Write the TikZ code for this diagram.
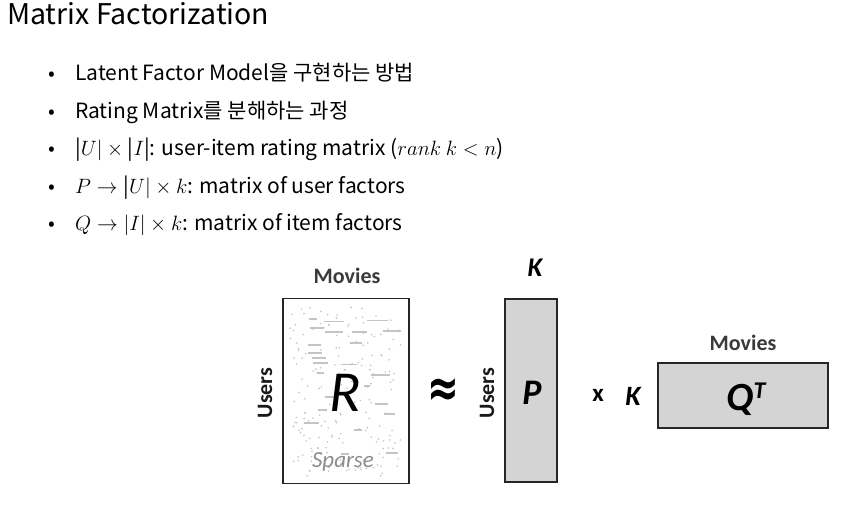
\documentclass[tikz,border=0pt]{standalone}
\usepackage{fontspec}
\setmainfont{Noto Sans CJK KR}
\newfontfamily\calfont{Carlito}
\newfontfamily\djfont{DejaVu Sans}
\definecolor{boxgray}{HTML}{D4D4D4}
\definecolor{dotgray}{HTML}{C4C4C4}
\definecolor{labgray}{HTML}{3A3A3A}
\begin{document}
\begin{tikzpicture}[x=1pt,y=-1pt,
  bul/.style={anchor=base west,inner sep=0pt,font=\fontsize{21}{24}\selectfont},
  dot/.style={anchor=base,inner sep=0pt,font=\fontsize{20}{24}\selectfont},
  mat/.style={draw=black!85,line width=1.6pt},
  lab/.style={inner sep=0pt,text=labgray,font=\calfont\fontsize{22}{24}\selectfont},
  ulab/.style={inner sep=0pt,text=black!90,font=\calfont\bfseries\fontsize{22}{24}\selectfont},
  big/.style={inner sep=0pt,font=\calfont\bfseries\itshape\fontsize{30}{30}\selectfont}]
\useasboundingbox (0,0) rectangle (868,529);
\fill[white] (0,0) rectangle (868,529);
% title
\node[anchor=base west,inner sep=0pt,font=\fontsize{28.5}{32}\selectfont] (title) at (7,25) {Matrix Factorization};
% bullets
\foreach \y [count=\i] in {81,118.5,156,193.5,231}{
  \node[dot] (b\i) at (52,\y) {•};
}
\node[bul] (t1) at (75,81) {Latent Factor Model을 구현하는 방법};
\node[bul] (t2) at (75,118.5) {Rating Matrix를 분해하는 과정};
\node[bul] (t3) at (75,156) {|$U|\times{}$|$I$|: user-item rating matrix ($rank\ k<n$)};
\node[bul] (t4) at (75,193.5) {$P\rightarrow{}$|$U|\times k$: matrix of user factors};
\node[bul] (t5) at (75,231) {$Q\rightarrow|I|\times k$: matrix of item factors};
% R matrix
\pgfmathsetseed{7}
\begin{scope}
\clip (286,302) rectangle (406,480);
\foreach \i in {1,...,190}{
  \pgfmathsetmacro{\px}{290+112*rnd}
  \pgfmathsetmacro{\py}{306+170*rnd}
  \fill[dotgray] (\px,\py) circle (0.9);
}
\foreach \i in {1,...,26}{
  \pgfmathsetmacro{\px}{292+95*rnd}
  \pgfmathsetmacro{\py}{308+160*rnd}
  \pgfmathsetmacro{\pl}{6+16*rnd}
  \draw[dotgray,line width=1.8pt] (\px,\py) -- ++(\pl,0);
}
\end{scope}
\node[mat,minimum width=126,minimum height=185,inner sep=0pt] (R) at (346,391) {};
\node[inner sep=0pt,font=\calfont\itshape\fontsize{58}{58}\selectfont] (Rl) at (345,393) {R};
\node[inner sep=0pt,text=black!45,font=\calfont\itshape\fontsize{23}{23}\selectfont] (sp) at (343,462) {Sparse};
\node[lab,font=\calfont\bfseries\fontsize{22}{24}\selectfont] (mov1) at (347,276) {Movies};
\node[ulab,rotate=90] (us1) at (265,393) {Users};
% approx
\node[inner sep=0pt,font=\djfont\bfseries\fontsize{40}{40}\selectfont] (apx) at (443,393) {\scalebox{0.95}[1.35]{≈}};
% P matrix
\node[mat,fill=boxgray,minimum width=52,minimum height=183,inner sep=0pt] (P) at (531,390.5) {};
\node[big,font=\calfont\bfseries\itshape\fontsize{36}{36}\selectfont] (Pl) at (532,393) {P};
\node[big,font=\calfont\bfseries\itshape\fontsize{27}{27}\selectfont] (K1) at (535,268) {K};
\node[ulab,rotate=90] (us2) at (487,393) {Users};
% times K
\node[inner sep=0pt,font=\calfont\bfseries\fontsize{25}{25}\selectfont] (tx) at (598,395) {x};
\node[big,font=\calfont\bfseries\itshape\fontsize{28}{28}\selectfont] (K2) at (633,396) {K};
% Q matrix
\node[mat,fill=boxgray,minimum width=170,minimum height=65,inner sep=0pt] (Q) at (743,395.5) {};
\node[big,font=\calfont\bfseries\itshape\fontsize{40}{40}\selectfont] (Ql) at (746,399) {Q\raisebox{12pt}{\fontsize{24}{24}\selectfont T}};
\node[lab,font=\calfont\bfseries\fontsize{22}{24}\selectfont] (mov2) at (743,343) {Movies};
\end{tikzpicture}
\end{document}
